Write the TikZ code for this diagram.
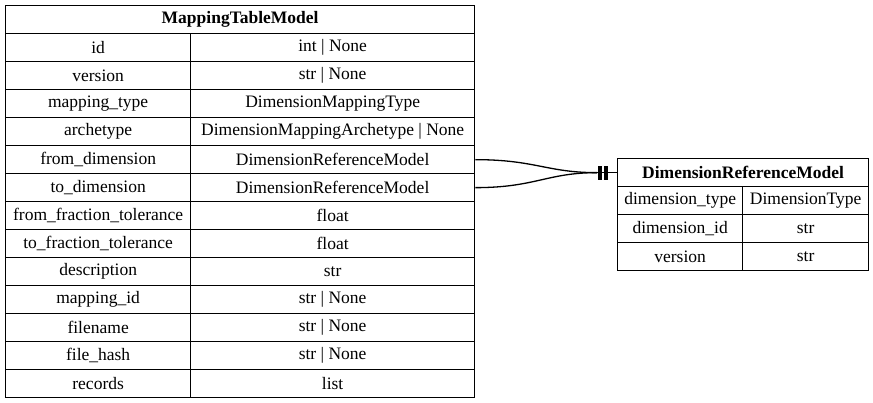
\documentclass[tikz,border=0pt]{standalone}
\usepackage{fontspec}
\setmainfont{Liberation Serif}
\usetikzlibrary{positioning}
\tikzset{
  cell/.style={draw, line width=1.3pt, minimum height=28pt, inner sep=0pt, anchor=north west},
  rel/.style={line width=1.3pt}
}
\begin{document}
\begin{tikzpicture}[x=1pt,y=-1pt,font=\fontsize{17.5}{19}\selectfont]
\useasboundingbox (0,0) rectangle (873,403);
% left table
\node[cell, minimum width=469pt] (mt) at (5,5) {\textbf{MappingTableModel}};
\foreach \k/\n/\t [count=\i] in {id/id/int | None, version/version/str | None,
  mtype/mapping\_type/DimensionMappingType, arch/archetype/DimensionMappingArchetype | None,
  fdim/from\_dimension/DimensionReferenceModel, tdim/to\_dimension/DimensionReferenceModel,
  fft/from\_fraction\_tolerance/float, tft/to\_fraction\_tolerance/float,
  desc/description/str, mid/mapping\_id/str | None, fn/filename/str | None,
  fh/file\_hash/str | None, rec/records/list} {
  \node[cell, minimum width=185pt] (\k-n) at (5,5+28*\i) {\n};
  \node[cell, minimum width=284pt] (\k-t) at (190,5+28*\i) {\t};
}
% right table
\node[cell, minimum width=251pt] (dr) at (617,158) {\textbf{DimensionReferenceModel}};
\foreach \k/\n/\t [count=\i] in {dt/dimension\_type/DimensionType,
  di/dimension\_id/str, dv/version/str} {
  \node[cell, minimum width=125pt] (\k-n) at (617,158+28*\i) {\n};
  \node[cell, minimum width=126pt] (\k-t) at (742,158+28*\i) {\t};
}
% connectors
\coordinate (m) at ([xshift=-20pt]dr.west);
\draw[rel] (fdim-t.east) .. controls +(60,0) and +(-50,0) .. (m);
\draw[rel] (tdim-t.east) .. controls +(60,0) and +(-50,0) .. (m);
\draw[rel] (m) -- (dr.west);
\draw[line width=3.5pt] ([xshift=3pt,yshift=-7pt]m) -- ([xshift=3pt,yshift=7pt]m);
\draw[line width=3.5pt] ([xshift=9pt,yshift=-7pt]m) -- ([xshift=9pt,yshift=7pt]m);
\end{tikzpicture}
\end{document}
